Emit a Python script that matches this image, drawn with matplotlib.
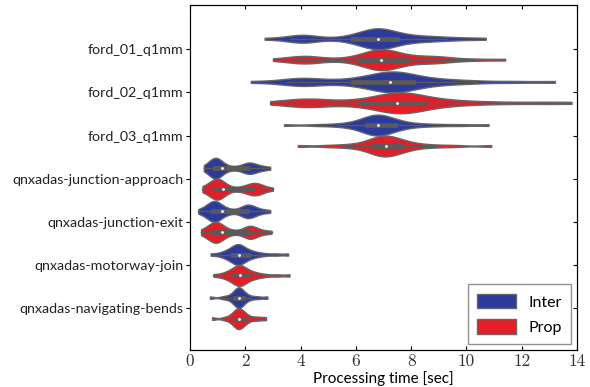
import numpy as np
import pandas as pd
import matplotlib
matplotlib.use("Agg")
import matplotlib.pyplot as plt
import seaborn as sns

categories = ["ford_01_q1mm", "ford_02_q1mm", "ford_03_q1mm",
              "qnxadas-junction-approach", "qnxadas-junction-exit",
              "qnxadas-motorway-join", "qnxadas-navigating-bends"]
modes = ["Inter", "Prop"]
xticks = [0, 2, 4, 6, 8, 10, 12, 14]

# processing times [sec]
ford01_inter = [2.7, 3.6, 3.9, 4.0, 4.1, 4.25, 4.5, 5.3, 5.8, 6.0, 6.2, 6.3, 6.4, 6.5, 6.6,
                6.7, 6.7, 6.8, 6.8, 6.9, 6.9, 7.0, 7.1, 7.2, 7.3, 7.4, 7.6, 7.8, 8.0, 8.3,
                8.6, 8.9, 9.3, 9.9, 10.7]
ford01_prop = [3.0, 3.7, 3.95, 4.1, 4.2, 4.4, 4.8, 5.5, 6.0, 6.2, 6.4, 6.5, 6.6, 6.7, 6.8,
               6.8, 6.9, 6.9, 7.0, 7.0, 7.1, 7.2, 7.3, 7.4, 7.5, 7.7, 7.9, 8.2, 8.5, 8.7,
               8.9, 9.1, 9.5, 10.3, 11.4]
ford02_inter = [2.2, 3.5, 3.8, 4.0, 4.15, 4.4, 4.9, 5.6, 6.0, 6.3, 6.5, 6.7, 6.9, 7.0, 7.1,
                7.2, 7.3, 7.3, 7.4, 7.5, 7.6, 7.7, 7.8, 8.0, 8.2, 8.5, 8.8, 9.2, 9.7, 10.4,
                11.7, 13.2]
ford02_prop = [2.9, 3.7, 4.0, 4.2, 4.35, 4.6, 5.1, 5.8, 6.2, 6.5, 6.8, 7.0, 7.2, 7.3, 7.4,
               7.5, 7.5, 7.6, 7.7, 7.8, 7.9, 8.0, 8.2, 8.4, 8.6, 8.9, 9.2, 9.7, 10.3, 11.3,
               12.6, 13.8]
ford03_inter = [3.4, 4.6, 5.3, 5.7, 6.0, 6.2, 6.3, 6.4, 6.5, 6.6, 6.6, 6.7, 6.7, 6.8, 6.8,
                6.9, 6.9, 7.0, 7.1, 7.2, 7.3, 7.4, 7.5, 7.7, 8.0, 8.4, 9.0, 9.8, 10.8]
ford03_prop = [3.9, 5.0, 5.6, 6.0, 6.3, 6.5, 6.6, 6.7, 6.8, 6.9, 6.9, 7.0, 7.0, 7.1, 7.1,
               7.2, 7.3, 7.4, 7.5, 7.6, 7.7, 7.8, 8.1, 8.4, 8.9, 9.6, 10.9]
approach_inter = [0.5, 0.65, 0.75, 0.8, 0.85, 0.85, 0.9, 0.9, 0.95, 0.95, 1.0, 1.0, 1.05, 1.1,
                  1.2, 1.35, 1.55, 1.8, 1.95, 2.05, 2.1, 2.15, 2.2, 2.25, 2.35, 2.5, 2.65, 2.9]
approach_prop = [0.45, 0.6, 0.7, 0.8, 0.85, 0.9, 0.95, 0.95, 1.0, 1.0, 1.05, 1.1, 1.15, 1.2,
                 1.3, 1.5, 1.8, 2.0, 2.1, 2.2, 2.3, 2.35, 2.4, 2.45, 2.55, 2.7, 3.0]
exit_inter = [0.3, 0.5, 0.6, 0.7, 0.75, 0.8, 0.8, 0.85, 0.9, 0.9, 0.95, 1.0, 1.0, 1.1,
              1.2, 1.3, 1.5, 1.8, 1.95, 2.0, 2.05, 2.1, 2.15, 2.2, 2.3, 2.4, 2.6, 2.9]
exit_prop = [0.4, 0.55, 0.65, 0.75, 0.8, 0.85, 0.85, 0.9, 0.95, 1.0, 1.0, 1.05, 1.1, 1.15,
             1.25, 1.4, 1.6, 1.9, 2.05, 2.1, 2.15, 2.2, 2.25, 2.3, 2.45, 2.65, 2.95]
motorway_inter = [0.75, 1.1, 1.25, 1.35, 1.45, 1.5, 1.55, 1.6, 1.65, 1.7, 1.72, 1.75, 1.78,
                  1.8, 1.85, 1.9, 1.95, 2.0, 2.1, 2.2, 2.3, 2.45, 2.7, 3.1, 3.55]
motorway_prop = [0.85, 1.15, 1.3, 1.4, 1.5, 1.55, 1.6, 1.65, 1.7, 1.75, 1.78, 1.8, 1.82,
                 1.85, 1.9, 1.95, 2.0, 2.05, 2.15, 2.25, 2.35, 2.5, 2.75, 3.15, 3.6]
bends_inter = [0.72, 1.2, 1.4, 1.55, 1.6, 1.65, 1.7, 1.72, 1.75, 1.77, 1.8, 1.82, 1.85, 1.9,
               1.95, 2.05, 2.2, 2.45, 2.8]
bends_prop = [0.8, 1.25, 1.45, 1.55, 1.6, 1.65, 1.7, 1.72, 1.75, 1.78, 1.8, 1.85, 1.9, 1.95,
              2.0, 2.1, 2.3, 2.5, 2.75]

inter_runs = [ford01_inter, ford02_inter, ford03_inter, approach_inter,
              exit_inter, motorway_inter, bends_inter]
prop_runs = [ford01_prop, ford02_prop, ford03_prop, approach_prop,
             exit_prop, motorway_prop, bends_prop]

rows = []
for cat, a, b in zip(categories, inter_runs, prop_runs):
    rows += [(cat, "Inter", v) for v in a]
    rows += [(cat, "Prop", v) for v in b]
df = pd.DataFrame(rows, columns=["bag", "mode", "time"])

blue = "#2c3a9c"
red = "#e41e26"
edge = "#666666"

plt.rcParams["font.family"] = ["Lato", "DejaVu Sans"]

fig = plt.figure(figsize=(5.9, 3.87), dpi=100)
ax = fig.add_axes([0.322, 0.0956, 0.656, 0.891])

sns.violinplot(data=df, x="time", y="bag", hue="mode", order=categories,
               hue_order=modes, palette=[blue, red], saturation=1, width=0.97,
               density_norm="width", cut=0, bw_adjust=0.55, inner="box",
               inner_kws=dict(box_width=3.5, whis_width=1, marker="o",
                              markersize=1.3, color="#5a5a5a"),
               linecolor=edge, linewidth=1, ax=ax)

ax.set_xlim(0, 14)
ax.set_ylim(6.97, -1.02)
ax.set_xticks(xticks, [str(t) for t in xticks], fontfamily="cmr10")
ax.tick_params(axis="x", direction="in", top=True, length=3, labelsize=12.5,
               labelcolor="#333333", pad=3)
ax.tick_params(axis="y", direction="out", length=3, labelsize=10.3,
               labelcolor="#222222", pad=2)
ax.set_xlabel("Processing time [sec]", fontsize=11, labelpad=1)
ax.set_ylabel("")
ax.spines["left"].set_color("#777777")

ax2 = ax.twinx()
ax2.set_ylim(ax.get_ylim())
ax2.set_yticks(range(len(categories)))
ax2.tick_params(axis="y", direction="in", length=3, labelright=False)

h, l = ax.get_legend_handles_labels()
ax.legend(h, l, loc="lower right", fancybox=False, edgecolor="#777777",
          fontsize=11.5, handlelength=2.4, handleheight=1.0, borderpad=0.6,
          labelspacing=0.6, borderaxespad=0.35)

fig.savefig("out.png", dpi=100)
